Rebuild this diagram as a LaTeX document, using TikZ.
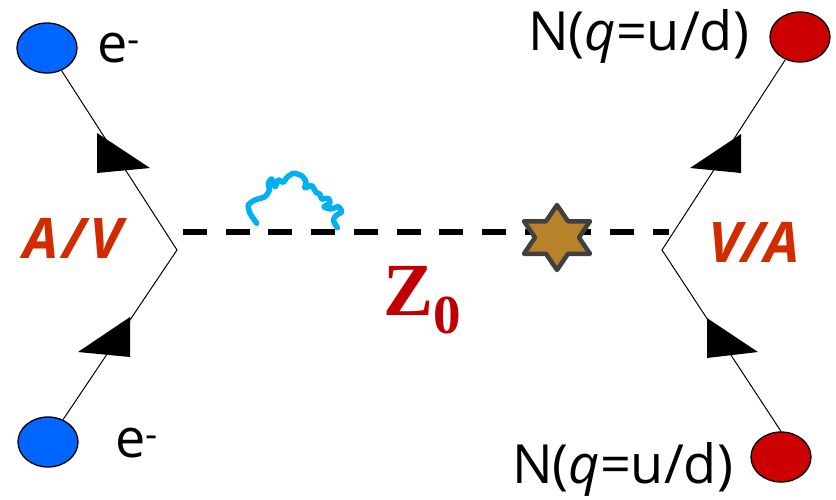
\documentclass[tikz,border=0pt]{standalone}
\usepackage{fontspec}
\setmainfont{Open Sans}
\newfontfamily\zfont{Liberation Serif}
\usetikzlibrary{shapes.geometric}
\definecolor{eblue}{RGB}{0,102,255}
\definecolor{nred}{RGB}{204,0,0}
\definecolor{avred}{RGB}{208,44,0}
\definecolor{zred}{RGB}{192,0,0}
\definecolor{photonblue}{RGB}{0,176,240}
\definecolor{stargold}{RGB}{184,130,42}
\definecolor{stargray}{RGB}{64,64,64}

\begin{document}
\begin{tikzpicture}[x=1pt,y=-1pt,
  blob/.style={ellipse,draw,line width=1.3pt,minimum width=60pt,minimum height=50pt,inner sep=0pt},
  leg/.style={line width=1pt},
  zline/.style={line width=6pt,dash pattern=on 24pt off 18.7pt},
  photon/.style={photonblue,line width=5.5pt,line cap=round,line join=round},
  lbl/.style={font=\fontsize{54}{60}\selectfont,anchor=base west,inner sep=0pt},
  coup/.style={font=\fontsize{56}{60}\selectfont\bfseries\itshape,text=avred,anchor=base west,inner sep=0pt}]
\useasboundingbox (0,0) rectangle (836,499);
\node[blob,fill=eblue] (eTop) at (47,48) {};
\node[blob,fill=eblue] (eBot) at (48,442) {};
\node[blob,fill=nred] (nTop) at (800,37) {};
\node[blob,fill=nred] (nBot) at (781,457) {};
\coordinate (vL) at (177,250);
\coordinate (vR) at (662,250);
\coordinate (zL) at (183,232);
\coordinate (zR) at (669,232);
\draw[leg] (eTop) -- (vL) -- (eBot);
\draw[leg] (nTop) -- (vR) -- (nBot.north);
\fill (97,133) -- (97,173) -- (150,168) -- cycle;
\fill (130,317) -- (130,357) -- (78,352) -- cycle;
\fill (741,134) -- (741,173) -- (690,168) -- cycle;
\fill (707,318) -- (707,358) -- (758,352) -- cycle;
\draw[zline] (zL) -- (zR);
\draw[photon] plot[smooth,tension=0.4] coordinates {(256.7,223.3) (250,213.3) (248.3,205) (255,200) (265,196.7)
  (269.3,190) (268.3,183.3) (271.7,179) (275,186.7) (278.3,180) (283.3,182.3) (286.7,177.7) (293.3,173.3)
  (301.7,175.7) (306,181.7) (305,187.7) (311.7,185.7) (316,192.3) (320,194.3) (321.7,199) (328.3,198.3)
  (330,203.3) (324,206.7) (330.7,209) (338.3,206.7) (341.7,211.7) (336.7,215) (333.3,220) (337.3,227.7)};
\draw[fill=stargold,draw=stargray,line width=4.5pt,line join=round] (557,205) -- (568,221.25) -- (590,221.25)
  -- (579,237.5) -- (590,253.75) -- (568,253.75) -- (557,270) -- (546,253.75) -- (524,253.75)
  -- (535,237.5) -- (524,221.25) -- (546,221.25) -- cycle;
\node[lbl] (eTopLbl) at (97,62) {e\textsuperscript{-}};
\node[lbl] (eBotLbl) at (115,457) {e\textsuperscript{-}};
\node[lbl] (nTopLbl) at (528,50) {N(\textit{q}=u/d)};
\node[lbl] (nBotLbl) at (512,483) {N(\textit{q}=u/d)};
\node[coup] (avL) at (23,258) {A\kern4pt/\kern4pt V};
\node[coup] (avR) at (708,262) {V/A};
\node[font=\zfont\fontsize{75}{80}\selectfont\bfseries,text=zred,anchor=base west,inner sep=0pt] (zLbl)
  at (383,315) {Z\raisebox{-18pt}{\fontsize{55}{55}\selectfont 0}};
\end{tikzpicture}
\end{document}
